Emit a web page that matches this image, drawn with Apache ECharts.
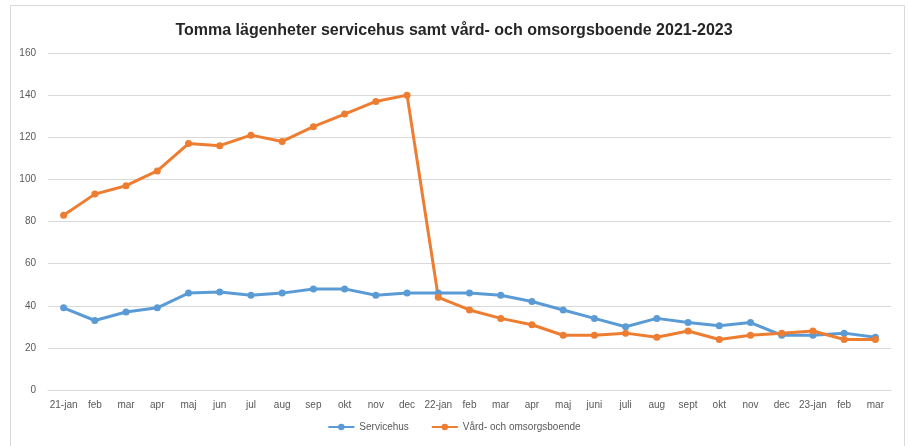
<!DOCTYPE html>
<html>
<head>
<meta charset="utf-8">
<script src="https://cdn.jsdelivr.net/npm/echarts@6/dist/echarts.min.js"></script>
<style>
    html, body { margin: 0; padding: 0; background: #fff; }
    #chart { width: 908px; height: 446px; }
</style>
</head>
<body>
<div id="chart"></div>
<script>
// månader 2021-jan .. 2023-mar
var months = ['21-jan', 'feb', 'mar', 'apr', 'maj', 'jun', 'jul', 'aug', 'sep', 'okt', 'nov', 'dec',
    '22-jan', 'feb', 'mar', 'apr', 'maj', 'juni', 'juli', 'aug', 'sept', 'okt', 'nov', 'dec',
    '23-jan', 'feb', 'mar']

// Servicehus
var servicehus = [39, 33, 37, 39, 46, 46.5, 45, 46, 48, 48, 45, 46,
    46, 46, 45, 42, 38, 34, 30, 34, 32, 30.5, 32, 26,
    26, 27, 25]

// Vård- och omsorgsboende
var vardOmsorg = [83, 93, 97, 104, 117, 116, 121, 118, 125, 131, 137, 140,
    44, 38, 34, 31, 26, 26, 27, 25, 28, 24, 26, 27,
    28, 24, 24]

var yTicks = [0, 20, 40, 60, 80, 100, 120, 140, 160]

var myChart = echarts.init(document.getElementById('chart'))

var labelColor = '#595959'
var font = '"Liberation Sans", Arial, sans-serif'

var option = {
    backgroundColor: '#fff',
    animation: false,
    title: {
        text: 'Tomma lägenheter servicehus samt vård- och omsorgsboende 2021-2023',
        left: 'center',
        top: 18,
        textStyle: {
            fontFamily: font,
            fontSize: 16,
            fontWeight: 'bold',
            color: '#262626'
        }
    },
    graphic: [{
        type: 'rect',
        shape: { x: 10.5, y: 5.5, width: 894, height: 460 },
        style: { fill: 'none', stroke: '#d9d9d9', lineWidth: 1 },
        silent: true
    }],
    legend: {
        bottom: 9,
        left: 'center',
        itemWidth: 26,
        itemHeight: 8,
        itemGap: 22,
        textStyle: { color: labelColor, fontSize: 10, fontFamily: font },
        data: ['Servicehus', 'Vård- och omsorgsboende']
    },
    grid: {
        left: 48,
        right: 17,
        top: 53,
        bottom: 56,
        containLabel: false
    },
    xAxis: {
        type: 'category',
        data: months,
        boundaryGap: true,
        axisTick: { show: false },
        axisLine: { lineStyle: { color: '#d9d9d9', width: 1 } },
        axisLabel: {
            color: labelColor,
            fontSize: 10,
            fontFamily: font,
            interval: 0,
            margin: 10
        }
    },
    yAxis: {
        type: 'value',
        min: 0,
        max: 160,
        interval: 20,
        axisLine: { show: false },
        axisTick: { show: false },
        axisLabel: {
            color: labelColor,
            fontSize: 10,
            fontFamily: font,
            margin: 12,
            customValues: yTicks
        },
        splitLine: { lineStyle: { color: '#d9d9d9', width: 1 } }
    },
    color: ['#5b9bd5', '#ed7d31'],
    series: [
        {
            name: 'Servicehus',
            type: 'line',
            data: servicehus,
            symbol: 'circle',
            symbolSize: 7,
            lineStyle: { width: 3 },
            itemStyle: { color: '#5b9bd5' }
        },
        {
            name: 'Vård- och omsorgsboende',
            type: 'line',
            data: vardOmsorg,
            symbol: 'circle',
            symbolSize: 7,
            lineStyle: { width: 3 },
            itemStyle: { color: '#ed7d31' }
        }
    ]
};

myChart.setOption(option)
</script>
</body>
</html>
